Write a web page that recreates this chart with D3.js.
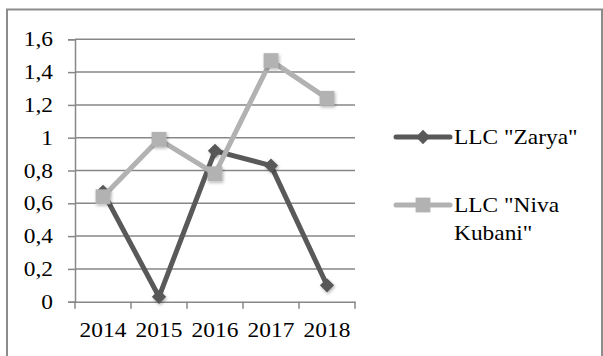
<!DOCTYPE html>
<html>
<head>
<meta charset="utf-8">
<script src="https://cdn.jsdelivr.net/npm/d3@7"></script>
<style>
  body { margin: 0; background: #fff; }
  text { font-family: "Liberation Serif", "Times New Roman", serif; font-size: 20px; fill: #000; }
</style>
</head>
<body>
<div id="chart"></div>
<script>
const years = ['2014', '2015', '2016', '2017', '2018'];
const zarya = [0.67, 0.03, 0.92, 0.83, 0.1];
const niva = [0.64, 0.99, 0.78, 1.47, 1.24];
const yTicks = [0, 0.2, 0.4, 0.6, 0.8, 1, 1.2, 1.4, 1.6];
const seriesNames = ['LLC "Zarya"', 'LLC "Niva', 'Kubani"'];

const width = 603;
const height = 356;
const stretch = 1.17; // text in the picture is a bit wider than tall
const gridColor = '#878787';
const color = {
    zarya: '#595959',
    niva: '#b2b2b2'
};

const svg = d3.select('#chart').append('svg')
    .attr('width', width)
    .attr('height', height);

// soft shadow under the markers
const defs = svg.append('defs');
const shadow = defs.append('filter')
    .attr('id', 'shadow')
    .attr('x', '-50%').attr('y', '-50%')
    .attr('width', '200%').attr('height', '200%');
shadow.append('feDropShadow')
    .attr('dx', 1).attr('dy', 1.5)
    .attr('stdDeviation', 1.5)
    .attr('flood-color', '#000')
    .attr('flood-opacity', 0.3);

// outer frame
svg.append('rect')
    .attr('x', 7).attr('y', 9.5)
    .attr('width', 595).attr('height', 360)
    .style('fill', 'none')
    .style('stroke', '#8c8c8c')
    .style('stroke-width', 2);

const x = d3.scaleBand().domain(years).range([75, 355]);
const y = d3.scaleLinear().domain([0, 1.6]).range([301.7, 39.3]);

// gridlines + y axis
const yAxis = svg.append('g')
    .attr('transform', 'translate(75,0)')
    .call(d3.axisLeft(y)
        .tickValues(yTicks)
        .tickSize(7)
        .tickFormat(d => String(d).replace('.', ',')));
yAxis.select('.domain').style('stroke', gridColor).style('stroke-width', 1.5);
yAxis.selectAll('.tick line').style('stroke', gridColor).style('stroke-width', 1.5);
yAxis.selectAll('.tick text')
    .attr('x', -22 / stretch)
    .attr('dy', '0.33em')
    .attr('transform', `scale(${stretch},1)`)
    .style('font-size', '20px')
    .style('font-family', '"Liberation Serif", serif')
    .style('fill', '#000');

svg.append('g')
    .selectAll('line')
    .data(yTicks.slice(1))
    .join('line')
    .attr('x1', 75).attr('x2', 355)
    .attr('y1', d => y(d)).attr('y2', d => y(d))
    .style('stroke', gridColor)
    .style('stroke-width', 1.5);

// x axis
const xAxis = svg.append('g')
    .attr('transform', `translate(0,${y(0)})`)
    .call(d3.axisBottom(x).tickSize(0).tickSizeOuter(0));
xAxis.select('.domain').style('stroke', gridColor).style('stroke-width', 1.5);
xAxis.selectAll('.tick text')
    .attr('y', 29)
    .attr('dy', '0.33em')
    .attr('transform', `scale(${stretch},1)`)
    .style('font-size', '20px')
    .style('font-family', '"Liberation Serif", serif')
    .style('fill', '#000');

const bounds = years.map(d => x(d)).concat([x.range()[1]]);
xAxis.selectAll('.band-tick')
    .data(bounds)
    .join('line')
    .attr('class', 'band-tick')
    .attr('x1', d => d).attr('x2', d => d)
    .attr('y1', 0).attr('y2', 7)
    .style('stroke', gridColor)
    .style('stroke-width', 1.5);

const line = d3.line()
    .x((d, i) => x(years[i]) + x.bandwidth() / 2)
    .y(d => y(d));

const diamond = d3.symbol().type(d3.symbolDiamond2).size(130);
const square = d3.symbol().type(d3.symbolSquare).size(220);

function drawSeries(values, stroke, symbol) {
    svg.append('path')
        .datum(values)
        .attr('d', line)
        .style('fill', 'none')
        .style('stroke', stroke)
        .style('stroke-width', 5)
        .style('stroke-linejoin', 'round');
    svg.append('g')
        .selectAll('path')
        .data(values)
        .join('path')
        .attr('d', symbol)
        .attr('transform', (d, i) => `translate(${x(years[i]) + x.bandwidth() / 2},${y(d)})`)
        .attr('filter', 'url(#shadow)')
        .style('fill', stroke);
}

drawSeries(zarya, color.zarya, diamond);
drawSeries(niva, color.niva, square);

// legend
function legendItem(cy, stroke, symbol, lines) {
    const g = svg.append('g');
    g.append('line')
        .attr('x1', 396).attr('x2', 450)
        .attr('y1', cy).attr('y2', cy)
        .style('stroke', stroke)
        .style('stroke-width', 5)
        .style('stroke-linecap', 'round');
    g.append('path')
        .attr('d', symbol)
        .attr('transform', `translate(423,${cy})`)
        .style('fill', stroke);
    lines.forEach((t, i) => {
        g.append('text')
            .attr('transform', `translate(454,${cy + i * 28.5}) scale(${stretch},1)`)
            .attr('dy', '0.33em')
            .text(t);
    });
}

legendItem(137, color.zarya, diamond, [seriesNames[0]]);
legendItem(205, color.niva, square, [seriesNames[1], seriesNames[2]]);
</script>
</body>
</html>
